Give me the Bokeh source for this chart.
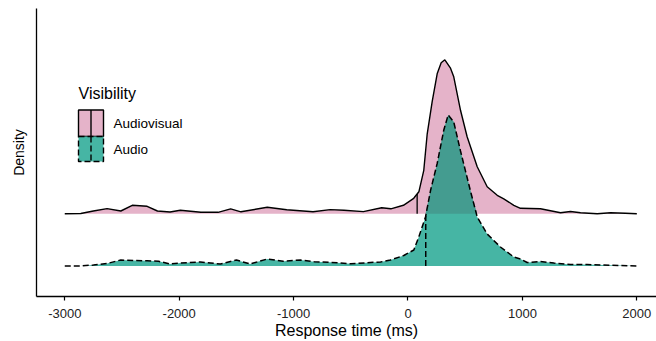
import numpy as np
from bokeh.plotting import figure
from bokeh.models import Range1d, FixedTicker
from bokeh.embed import file_html
from bokeh.resources import INLINE
from bokeh.core.properties import value

# ---------------- data ----------------
groups = ["Audio", "Audiovisual"]
legend_title = "Visibility"
x_ticks = [-3000, -2000, -1000, 0, 1000, 2000]
x_tick_labels = ["-3000", "-2000", "-1000", "0", "1000", "2000"]

av_time = [-3000, -2860, -2750, -2630, -2510, -2410, -2280, -2190, -2080, -1990,
           -1810, -1660, -1550, -1460, -1230, -1060, -830, -680, -560, -390,
           -230, -150, -40, 50, 95, 138, 168, 211, 255, 290,
           322, 370, 400, 459, 517, 605, 692, 780, 837, 925,
           983, 1158, 1333, 1420, 1508, 1654, 1770, 1900, 2000]
av_density = [0.0, 0.000006, 0.000056, 0.000104, 0.000056, 0.00017, 0.00015, 0.000056, 0.000036, 0.00007,
              0.00003, 0.00003, 0.0001, 0.00004, 0.00013, 0.00008, 0.00004, 0.000084, 0.00007, 0.000044,
              0.00012, 0.0001, 0.00017, 0.00031, 0.00044, 0.00087, 0.0016, 0.00224, 0.0028, 0.00302,
              0.00308, 0.00292, 0.00274, 0.00207, 0.00154, 0.00094, 0.00054, 0.00037, 0.0003, 0.00017,
              0.00011, 0.0001, 0.00002, 0.000046, 0.00002, 0.0, 0.00002, 0.00001, 0.0]

audio_time = [-3000, -2860, -2750, -2630, -2510, -2400, -2280, -2180, -2076, -1990,
              -1814, -1640, -1500, -1380, -1230, -1090, -940, -820, -680, -500,
              -330, -240, -153, -37, 51, 94, 153, 197, 255, 313,
              351, 400, 459, 546, 605, 692, 808, 925, 983, 1042,
              1158, 1275, 1420, 1566, 1711, 2000]
audio_density = [0.0, 0.0, 0.00002, 0.00005, 0.00012, 0.00011, 0.000106, 0.000094, 0.00004, 0.00006,
                 0.00008, 0.00004, 0.00012, 0.00004, 0.00014, 0.000094, 0.00012, 0.000086, 0.000074, 0.000044,
                 0.00007, 0.00008, 0.00012, 0.00021, 0.00032, 0.00058, 0.00098, 0.00151, 0.00205, 0.00272,
                 0.00302, 0.00288, 0.0023, 0.0015, 0.00098, 0.00064, 0.00038, 0.00018, 0.00014, 0.00007,
                 0.00009, 0.00006, 0.00003, 0.00003, 0.00002, 0.0]

av_quantile = 80       # vertical line (median) for Audiovisual
audio_quantile = 155   # vertical line (median) for Audio

# ---------------- styling / layout ----------------
FONT = "Liberation Sans"
PINK = "#e5b3c9"
TEAL = "#46b5a4"
OVERLAP = "#449c90"
DASH = "6 3"
RIDGE_SCALE = 958.0        # density -> ridge height units
BASE = {"Audio": 1.0, "Audiovisual": 2.0}

W, H = 656, 341
X0, X1 = -3247.0, 2172.0
Y0, Y1 = 0.4157, 5.933
FL, FT, FW, FH = 36, 8, 620, 288   # frame in figure pixels


def px2x(fx):
    return X0 + (fx - FL) / FW * (X1 - X0)


def px2y(fy):
    return Y1 - (fy - FT) / FH * (Y1 - Y0)


p = figure(width=W, height=H, output_backend="svg", toolbar_location=None,
           x_range=Range1d(X0, X1), y_range=Range1d(Y0, Y1),
           min_border_left=FL, min_border_right=0, min_border_top=FT,
           min_border_bottom=H - FH - FT)
p.outline_line_color = None
p.grid.visible = False
p.background_fill_color = "white"
p.border_fill_color = "white"

# x axis
xa = p.xaxis[0]
xa.ticker = FixedTicker(ticks=x_ticks)
xa.major_label_overrides = {t: s for t, s in zip(x_ticks, x_tick_labels)}
xa.minor_tick_line_color = None
xa.major_tick_in = 0
xa.major_tick_out = 4
xa.major_tick_line_width = 1.2
xa.axis_line_width = 1.3
xa.axis_line_color = "black"
xa.major_label_text_font = FONT
xa.major_label_text_font_size = "13px"
xa.major_label_text_color = "#222222"
xa.major_label_standoff = 8
xa.axis_label = "Response time (ms)"
xa.axis_label_text_font = FONT
xa.axis_label_text_font_size = "16px"
xa.axis_label_text_font_style = "normal"
xa.axis_label_text_color = "black"
xa.axis_label_standoff = 1

# y axis
ya = p.yaxis[0]
ya.ticker = FixedTicker(ticks=[])
ya.minor_tick_line_color = None
ya.major_tick_in = 0
ya.major_tick_out = 0
ya.major_label_standoff = 0
ya.major_label_text_font_size = "0px"
ya.axis_line_width = 1.3
ya.axis_line_color = "black"
ya.axis_label = "Density"
ya.axis_label_text_font = FONT
ya.axis_label_text_font_size = "14px"
ya.axis_label_text_font_style = "normal"
ya.axis_label_text_color = "black"
ya.axis_label_standoff = 10

# ---------------- ridges ----------------
av_x = np.array(av_time, dtype=float)
av_top = BASE["Audiovisual"] + np.array(av_density) * RIDGE_SCALE
au_x = np.array(audio_time, dtype=float)
au_top = BASE["Audio"] + np.array(audio_density) * RIDGE_SCALE

# Audiovisual (back)
p.varea(x=av_x, y1=np.full_like(av_x, BASE["Audiovisual"]), y2=av_top,
        fill_color=PINK, fill_alpha=1.0)
p.line(av_x, av_top, line_color="black", line_width=1.4)
av_q_top = np.interp(av_quantile, av_x, av_top)
p.segment(x0=[av_quantile], y0=[BASE["Audiovisual"]], x1=[av_quantile], y1=[av_q_top],
          line_color="black", line_width=1.3)

# Audio (front)
p.varea(x=au_x, y1=np.full_like(au_x, BASE["Audio"]), y2=au_top,
        fill_color=TEAL, fill_alpha=1.0)
p.varea(x=au_x, y1=np.full_like(au_x, BASE["Audiovisual"]),
        y2=np.maximum(au_top, BASE["Audiovisual"]), fill_color=OVERLAP, fill_alpha=1.0)
p.line(au_x, au_top, line_color="black", line_width=1.5, line_dash=DASH)
au_q_top = np.interp(audio_quantile, au_x, au_top)
p.segment(x0=[audio_quantile], y0=[BASE["Audio"]], x1=[audio_quantile], y1=[au_q_top],
          line_color="black", line_width=1.5, line_dash=DASH)

# ---------------- legend (drawn manually) ----------------
kx0, kx1 = px2x(78), px2x(103)
kxm = px2x(90.5)
ky = [(109.5, 136), (136, 161)]
key_fill = {"Audiovisual": PINK, "Audio": TEAL}
key_dash = {"Audiovisual": "solid", "Audio": DASH}
order = ["Audiovisual", "Audio"]

p.text(x=[px2x(78)], y=[px2y(93)], text=[legend_title],
       text_font=value(FONT), text_font_size=value("16px"),
       text_baseline="middle", text_align="left", text_color="black")
for name, (t, b) in zip(order, ky):
    p.quad(left=[kx0], right=[kx1], top=[px2y(t)], bottom=[px2y(b)],
           fill_color=key_fill[name], line_color="black", line_width=1.4,
           line_dash=key_dash[name])
    p.segment(x0=[kxm], y0=[px2y(t)], x1=[kxm], y1=[px2y(b)],
              line_color="black", line_width=1.4, line_dash=key_dash[name])
    p.text(x=[px2x(113)], y=[px2y((t + b) / 2)], text=[name],
           text_font=value(FONT), text_font_size=value("13.5px"),
           text_baseline="middle", text_align="left", text_color="black")

open("out.html", "w").write(file_html(p, INLINE))
